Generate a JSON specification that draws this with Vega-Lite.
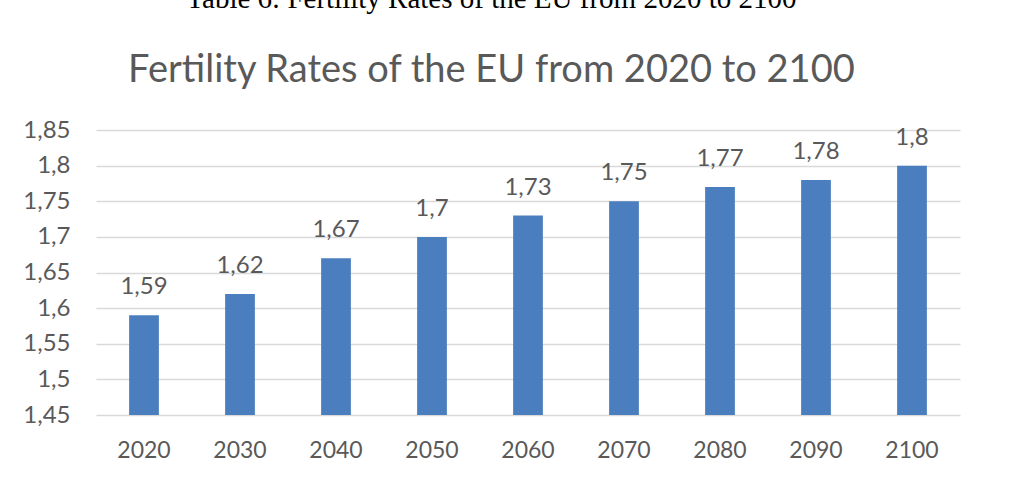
{
  "$schema": "https://vega.github.io/schema/vega-lite/v6.json",
  "width": 864,
  "height": 285,
  "autosize": {"type": "none"},
  "padding": {"left": 96, "top": 130, "right": 54, "bottom": 62},
  "background": "white",
  "config": {
    "locale": {
      "number": {"decimal": ",", "thousands": ".", "grouping": [3], "currency": ["", " €"]}
    },
    "view": {"stroke": null}
  },
  "title": {
    "text": "Table 6: Fertility Rates of the EU from 2020 to 2100",
    "subtitle": "Fertility Rates of the EU from 2020 to 2100",
    "anchor": "middle",
    "frame": "bounds",
    "font": "Liberation Serif",
    "fontSize": 29,
    "fontWeight": "normal",
    "color": "#000000",
    "subtitleFont": "Lato",
    "subtitleFontSize": 38,
    "subtitleColor": "#595959",
    "subtitlePadding": 38,
    "offset": 28
  },
  "data": {
    "values": [
      {"year": "2020", "rate": 1.59},
      {"year": "2030", "rate": 1.62},
      {"year": "2040", "rate": 1.67},
      {"year": "2050", "rate": 1.7},
      {"year": "2060", "rate": 1.73},
      {"year": "2070", "rate": 1.75},
      {"year": "2080", "rate": 1.77},
      {"year": "2090", "rate": 1.78},
      {"year": "2100", "rate": 1.8}
    ]
  },
  "encoding": {
    "x": {
      "field": "year",
      "type": "nominal",
      "sort": null,
      "scale": {"paddingInner": 0.69, "paddingOuter": 0.345},
      "axis": {
        "title": null,
        "labelAngle": 0,
        "labelFont": "Lato",
        "labelFontSize": 23,
        "labelColor": "#595959",
        "labelPadding": 24,
        "ticks": false,
        "domain": false
      }
    },
    "y": {
      "field": "rate",
      "type": "quantitative",
      "scale": {"domain": [1.45, 1.85], "nice": false, "zero": false},
      "axis": {
        "title": null,
        "values": [1.45, 1.5, 1.55, 1.6, 1.65, 1.7, 1.75, 1.8, 1.85],
        "format": ".2~f",
        "labelFont": "Lato",
        "labelFontSize": 24,
        "labelColor": "#595959",
        "labelPadding": 26,
        "ticks": false,
        "domain": false,
        "grid": true,
        "gridColor": "#D9D9D9",
        "gridWidth": 1.5
      }
    }
  },
  "layer": [
    {
      "mark": {"type": "bar", "color": "#4A7EBF"},
      "encoding": {"y2": {"datum": 1.45}}
    },
    {
      "mark": {
        "type": "text",
        "font": "Lato",
        "fontSize": 24,
        "color": "#595959",
        "baseline": "alphabetic",
        "dy": -21
      },
      "encoding": {
        "text": {"field": "rate", "type": "quantitative", "format": ".2~f"}
      }
    }
  ]
}
